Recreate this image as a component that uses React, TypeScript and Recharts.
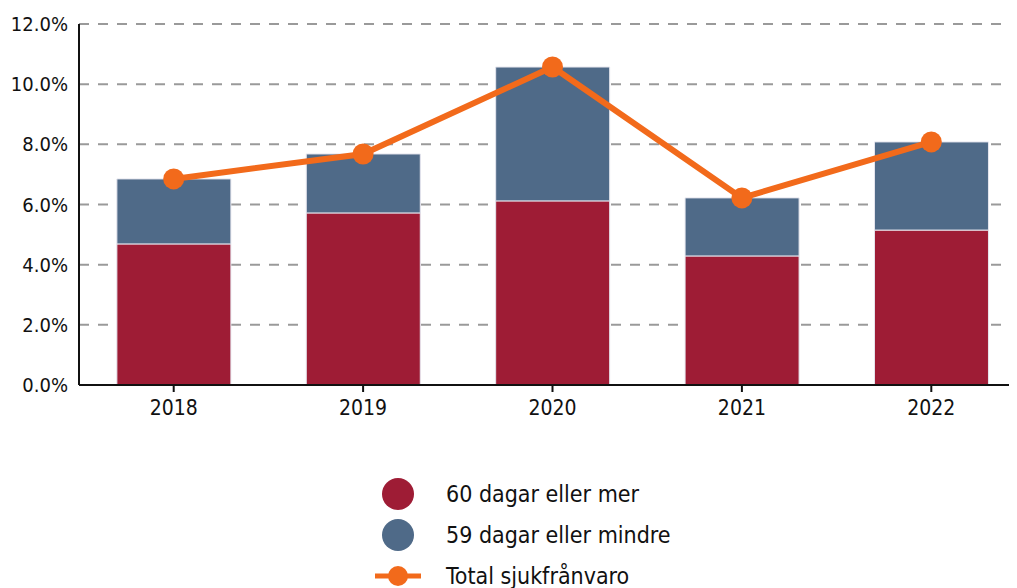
import React from 'react';
import { ComposedChart, Bar, Line, XAxis, YAxis, CartesianGrid } from 'recharts';

const years = ['2018', '2019', '2020', '2021', '2022'];
const longTerm = [4.69, 5.72, 6.12, 4.29, 5.15];
const shortTerm = [2.16, 1.96, 4.45, 1.93, 2.93];
const total = [6.85, 7.68, 10.57, 6.22, 8.08];
const yTicks = [0, 2, 4, 6, 8, 10, 12];

const RED = '#9E1C35';
const BLUE = '#4F6A88';
const ORANGE = '#F26A1B';
const FONT = '"DejaVu Sans Condensed", "DejaVu Sans", sans-serif';

const data = years.map((year, i) => ({
  year,
  long: longTerm[i],
  short: shortTerm[i],
  total: total[i],
}));

const legendItems = [
  { label: '60 dagar eller mer', color: RED, kind: 'circle' },
  { label: '59 dagar eller mindre', color: BLUE, kind: 'circle' },
  { label: 'Total sjukfrånvaro', color: ORANGE, kind: 'line' },
];

const LegendBox: React.FC = () => (
  <div style={{ position: 'absolute', left: 366, top: 465, fontFamily: FONT, fontSize: 23, color: '#111' }}>
    {legendItems.map((item) => (
      <div key={item.label} style={{ display: 'flex', alignItems: 'center', height: 41 }}>
        <svg width={64} height={36} style={{ marginRight: 8 }}>
          {item.kind === 'circle' ? (
            <circle cx={24} cy={18} r={16} fill={item.color} />
          ) : (
            <g>
              <line x1={1} y1={18} x2={47} y2={18} stroke={item.color} strokeWidth={5} />
              <circle cx={24} cy={18} r={10} fill={item.color} />
            </g>
          )}
        </svg>
        <span>{item.label}</span>
      </div>
    ))}
  </div>
);

export default function App() {
  return (
    <div style={{ position: 'relative', width: 1009, height: 580, overflow: 'hidden' }}>
      <ComposedChart
        width={1030}
        height={580}
        data={data}
        margin={{ top: 16, right: 12, bottom: 173, left: 0 }}
        barCategoryGap="20%"
      >
        <CartesianGrid vertical={false} stroke="#9a9a9a" strokeWidth={2} strokeDasharray="10 9" />
        <XAxis
          dataKey="year"
          height={30}
          axisLine={{ stroke: '#111', strokeWidth: 2 }}
          tickLine={{ stroke: '#111', strokeWidth: 2 }}
          tickSize={7}
          tick={{ fill: '#111', fontSize: 21, fontFamily: FONT }}
          tickMargin={8}
        />
        <YAxis
          width={71}
          domain={[0, 12]}
          ticks={yTicks}
          interval={0}
          tickFormatter={(v: number) => `${v.toFixed(1)}%`}
          axisLine={{ stroke: '#111', strokeWidth: 2 }}
          tickLine={false}
          tick={{ fill: '#111', fontSize: 20, fontFamily: FONT }}
          tickMargin={5}
        />
        <Bar dataKey="long" stackId="a" fill={RED} stroke="#e6e6ee" strokeWidth={1} isAnimationActive={false} />
        <Bar dataKey="short" stackId="a" fill={BLUE} stroke="#e6e6ee" strokeWidth={1} isAnimationActive={false} />
        <Line
          dataKey="total"
          stroke={ORANGE}
          strokeWidth={6}
          dot={{ r: 10.5, fill: ORANGE, stroke: ORANGE, strokeWidth: 0 }}
          activeDot={false}
          isAnimationActive={false}
        />
      </ComposedChart>
      <LegendBox />
    </div>
  );
}
